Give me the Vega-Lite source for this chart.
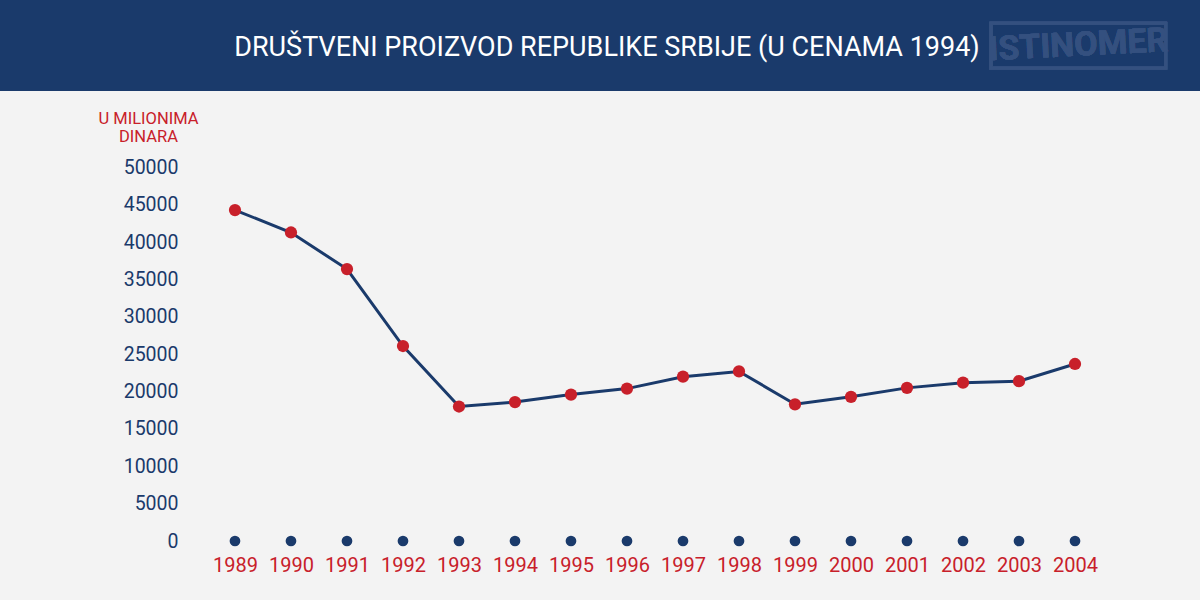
{
  "$schema": "https://vega.github.io/schema/vega-lite/v6.json",
  "width": 1200,
  "height": 600,
  "padding": 0,
  "autosize": {"type": "fit", "contains": "padding"},
  "background": "#f3f3f3",
  "config": {
    "view": {"stroke": null},
    "font": "Roboto"
  },
  "title": {
    "text": "DRUŠTVENI PROIZVOD REPUBLIKE SRBIJE (U CENAMA 1994)",
    "color": "#ffffff",
    "font": "Roboto",
    "fontSize": 27,
    "fontWeight": "normal",
    "anchor": "middle",
    "dx": 7,
    "baseline": "middle",
    "offset": -75
  },
  "data": {
    "values": [
      {"year": 1989, "value": 44300},
      {"year": 1990, "value": 41300},
      {"year": 1991, "value": 36400},
      {"year": 1992, "value": 26100},
      {"year": 1993, "value": 18000},
      {"year": 1994, "value": 18600},
      {"year": 1995, "value": 19600},
      {"year": 1996, "value": 20400},
      {"year": 1997, "value": 22000},
      {"year": 1998, "value": 22700},
      {"year": 1999, "value": 18300},
      {"year": 2000, "value": 19300},
      {"year": 2001, "value": 20500},
      {"year": 2002, "value": 21200},
      {"year": 2003, "value": 21400},
      {"year": 2004, "value": 23700}
    ]
  },
  "encoding": {
    "x": {
      "field": "year",
      "type": "quantitative",
      "scale": {"domain": [1984.804, 2006.232], "nice": false, "zero": false},
      "axis": {
        "values": [1989,1990,1991,1992,1993,1994,1995,1996,1997,1998,1999,2000,2001,2002,2003,2004],
        "format": "d",
        "orient": "bottom",
        "offset": -45,
        "domain": false,
        "ticks": false,
        "grid": false,
        "labelPadding": 0,
        "labelColor": "#c8202a",
        "labelFont": "Roboto",
        "labelFontSize": 20,
        "labelFlush": false,
        "title": null
      }
    },
    "y": {
      "field": "value",
      "type": "quantitative",
      "scale": {"domain": [-7898, 72424], "nice": false, "zero": false},
      "axis": {
        "values": [0,5000,10000,15000,20000,25000,30000,35000,40000,45000,50000],
        "format": "d",
        "orient": "left",
        "offset": -185,
        "domain": false,
        "ticks": false,
        "grid": false,
        "labelPadding": 7,
        "labelColor": "#1a3a6b",
        "labelFont": "Roboto",
        "labelFontSize": 19.5,
        "labelFlush": false,
        "title": ["U MILIONIMA", "DINARA"],
        "titleAngle": 0,
        "titleAlign": "center",
        "titleBaseline": "top",
        "titleX": -37,
        "titleY": 110,
        "titleColor": "#c8202a",
        "titleFont": "Roboto",
        "titleFontSize": 16.5,
        "titleFontWeight": "normal",
        "titleLineHeight": 18
      }
    }
  },
  "layer": [
    {
      "mark": {"type": "rect", "color": "#1a3a6b"},
      "encoding": {
        "x": {"datum": 1984.804},
        "x2": {"datum": 2006.232},
        "y": {"datum": 60240},
        "y2": {"datum": 72424}
      }
    },
    {
      "mark": {"type": "rect", "filled": false, "stroke": "#34507f", "strokeWidth": 3},
      "encoding": {
        "x": {"datum": 2002.5},
        "x2": {"datum": 2005.62},
        "y": {"datum": 63300},
        "y2": {"datum": 69300}
      }
    },
    {
      "mark": {"type": "text", "text": "ISTINOMER", "color": "#34507f", "font": "Roboto", "fontSize": 34, "fontWeight": "bold", "angle": -3, "align": "center", "baseline": "middle"},
      "encoding": {
        "x": {"datum": 2004.06},
        "y": {"datum": 66300}
      }
    },
    {
      "mark": {"type": "point", "filled": true, "color": "#1a3a6b", "size": 115, "opacity": 1},
      "encoding": {
        "y": {"datum": 0}
      }
    },
    {
      "mark": {"type": "line", "color": "#1a3a6b", "strokeWidth": 3}
    },
    {
      "mark": {"type": "point", "filled": true, "color": "#c8202a", "size": 150, "opacity": 1}
    }
  ]
}
